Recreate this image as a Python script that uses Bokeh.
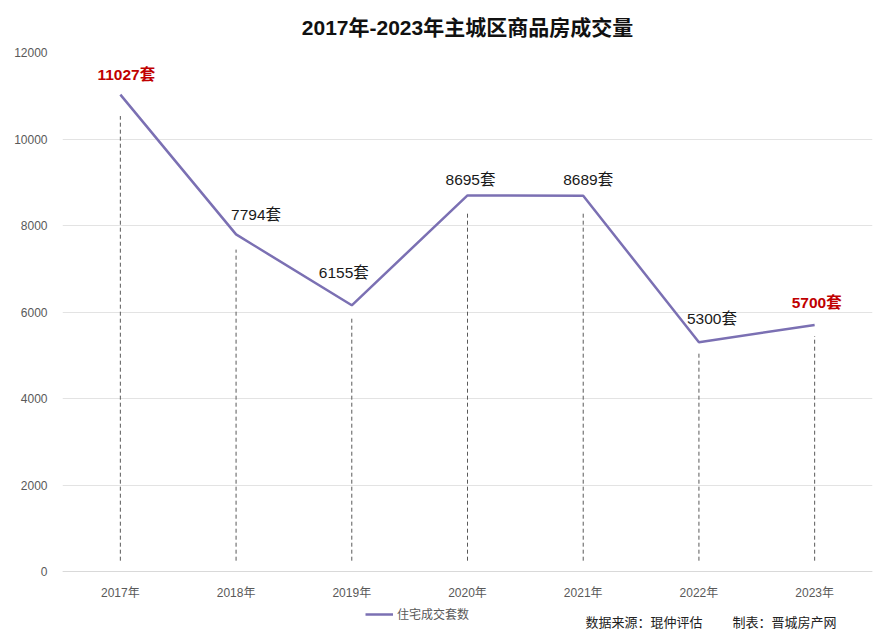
from bokeh.plotting import figure
from bokeh.models import ColumnDataSource, Range1d, Legend, LegendItem, FixedTicker, Label
from bokeh.core.properties import value
from bokeh.embed import file_html
from bokeh.resources import INLINE

years = ["2017年", "2018年", "2019年", "2020年", "2021年", "2022年", "2023年"]
volumes = [11027, 7794, 6155, 8695, 8689, 5300, 5700]
label_texts = ["11027套", "7794套", "6155套", "8695套", "8689套", "5300套", "5700套"]
highlight = [True, False, False, False, False, False, True]
series_name = "住宅成交套数"
title_text = "2017年-2023年主城区商品房成交量"
source_text = "数据来源：琨仲评估"
maker_text = "制表：晋城房产网"
y_ticks = [0, 2000, 4000, 6000, 8000, 10000, 12000]

FONT = "Liberation Sans, Noto Sans CJK SC"
LINE_COLOR = "#7b70b3"

# frame spans down to the page bottom; value 0 sits 66px above it
Y_MAX = 12000
y_min = -Y_MAX * 66 / 519

p = figure(width=895, height=637, x_range=years, y_range=Range1d(y_min, Y_MAX),
           output_backend="svg", toolbar_location=None,
           min_border_left=62, min_border_right=23, min_border_top=52, min_border_bottom=0)
p.outline_line_color = None
p.background_fill_color = "white"
p.border_fill_color = "white"

# title
p.title.text = title_text
p.title.align = "center"
p.title.text_font = FONT
p.title.text_font_size = "21px"
p.title.text_font_style = "bold"
p.title.text_color = "#111111"
p.title.standoff = 27

# axes
p.yaxis.ticker = FixedTicker(ticks=y_ticks)
p.yaxis.axis_line_color = None
p.yaxis.major_tick_line_color = None
p.yaxis.minor_tick_line_color = None
p.yaxis.major_label_text_font = FONT
p.yaxis.major_label_text_font_size = "12px"
p.yaxis.major_label_text_color = "#595959"
p.yaxis.major_label_standoff = 9
p.xaxis.fixed_location = 0
p.xaxis.axis_line_color = "#d9d9d9"
p.xaxis.major_tick_line_color = None
p.xaxis.minor_tick_line_color = None
p.xaxis.major_label_text_font = FONT
p.xaxis.major_label_text_font_size = "12px"
p.xaxis.major_label_text_color = "#595959"
p.xaxis.major_label_standoff = 8
p.xgrid.grid_line_color = None
p.ygrid.grid_line_color = "#e3e3e3"
p.ygrid.grid_line_width = 1

# drop lines
drop_top = [v * 0.955 for v in volumes]
drop_bottom = [250] * len(volumes)
p.segment(x0=years, y0=drop_bottom, x1=years, y1=drop_top,
          line_color="#595959", line_dash="4 3", line_width=1)

# main line
r = p.line(years, volumes, line_color=LINE_COLOR, line_width=2.5)

# data labels
dx = [6, 20, -8, 3, 5, 13, 2]
dy = [-20, -20, -33, -16, -16, -24, -22]
idx_n = [i for i in range(len(years)) if not highlight[i]]
idx_h = [i for i in range(len(years)) if highlight[i]]
normal = ColumnDataSource(dict(
    x=[years[i] for i in idx_n], y=[volumes[i] for i in idx_n],
    t=[label_texts[i] for i in idx_n], xo=[dx[i] for i in idx_n], yo=[dy[i] for i in idx_n]))
hl = ColumnDataSource(dict(
    x=[years[i] for i in idx_h], y=[volumes[i] for i in idx_h],
    t=[label_texts[i] for i in idx_h], xo=[dx[i] for i in idx_h], yo=[dy[i] for i in idx_h]))
p.text(x="x", y="y", text="t", x_offset="xo", y_offset="yo", source=normal,
       text_font=value(FONT), text_font_size="15.5px", text_color="#1a1a1a",
       text_align="center", text_baseline="middle")
p.text(x="x", y="y", text="t", x_offset="xo", y_offset="yo", source=hl,
       text_font=value(FONT), text_font_size="15.5px", text_font_style="bold",
       text_color="#c00000", text_align="center", text_baseline="middle")

# legend
legend = Legend(items=[LegendItem(label=series_name, renderers=[r])],
                location=(303, 15), orientation="horizontal",
                label_text_font=FONT, label_text_font_size="12px",
                label_text_color="#595959", background_fill_alpha=0,
                border_line_color=None, glyph_width=28, glyph_height=14,
                label_height=14, label_standoff=4, padding=0, margin=0)
p.add_layout(legend, "center")

# footer
p.add_layout(Label(x=523, y=15, x_units="screen", y_units="screen", text=source_text,
                   text_font=FONT, text_font_size="13px", text_color="#222222",
                   text_align="left", text_baseline="middle"))
p.add_layout(Label(x=670, y=15, x_units="screen", y_units="screen", text=maker_text,
                   text_font=FONT, text_font_size="13px", text_color="#222222",
                   text_align="left", text_baseline="middle"))

open("out.html", "w").write(file_html(p, INLINE))
